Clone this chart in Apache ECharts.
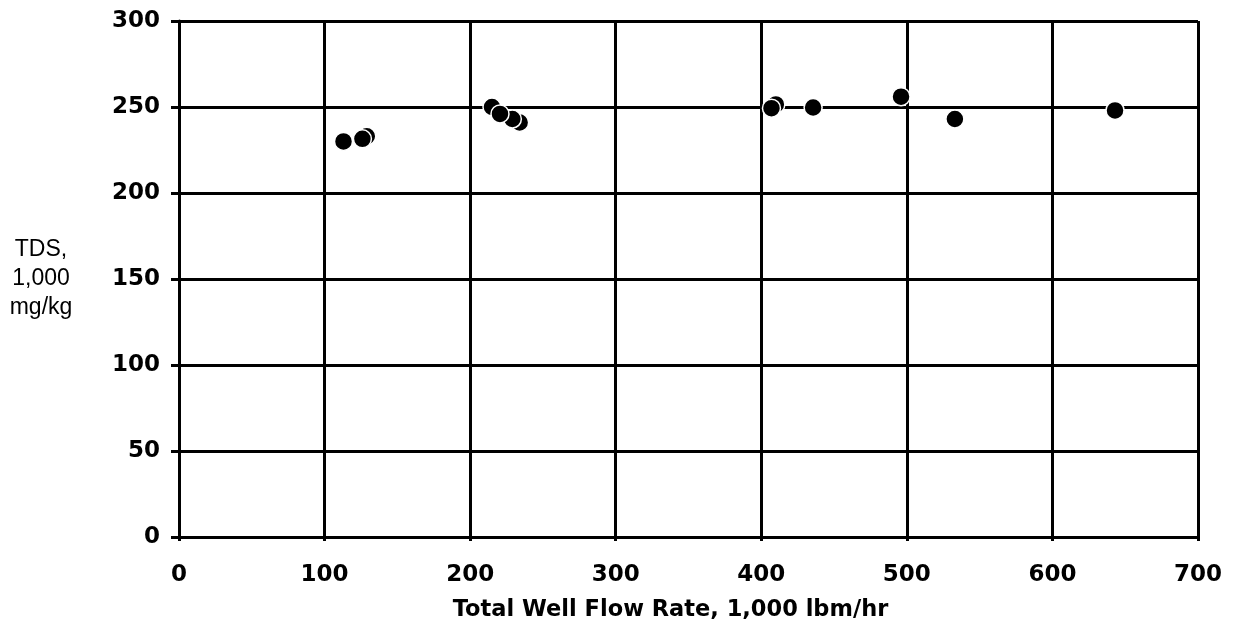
<!DOCTYPE html>
<html>
<head>
<meta charset="utf-8">
<script src="https://cdn.jsdelivr.net/npm/echarts@6/dist/echarts.min.js"></script>
<style>
html,body{margin:0;padding:0;background:#fff;}
#chart{width:1236px;height:632px;}
</style>
</head>
<body>
<div id="chart"></div>
<script>
// Data (back-most points first)
var flowRate = [129, 126, 113, 234, 229, 215, 220.5, 410, 407, 435.6, 496, 533, 643];
var tds      = [233, 231.5, 230, 241, 243, 250, 246, 251.5, 249.3, 249.7, 256, 243, 248];
var xTicks = [0, 100, 200, 300, 400, 500, 600, 700];
var yTicks = [0, 50, 100, 150, 200, 250, 300];

var points = flowRate.map(function (x, i) { return [x, tds[i]]; });

var chart = echarts.init(document.getElementById('chart'), null, {renderer: 'canvas'});
var lineStyle = {color: '#000', width: 3};
chart.setOption({
  backgroundColor: '#fff',
  animation: false,
  grid: {left: 179, right: 38, top: 21, bottom: 95, containLabel: false},
  xAxis: {
    type: 'value',
    min: xTicks[0], max: xTicks[xTicks.length - 1], interval: 100,
    name: 'Total Well Flow Rate, 1,000 lbm/hr',
    nameLocation: 'middle',
    nameGap: 62,
    nameTextStyle: {fontFamily: 'DejaVu Sans', fontWeight: 'bold', fontSize: 22.5, color: '#000', padding: [0, 36, 0, 0]},
    axisLine: {show: true, lineStyle: lineStyle},
    axisTick: {show: true, length: 4, lineStyle: lineStyle},
    axisLabel: {margin: 27, fontFamily: 'DejaVu Sans', fontWeight: 'bold', fontSize: 23, color: '#000'},
    splitLine: {show: true, lineStyle: lineStyle}
  },
  yAxis: {
    type: 'value',
    min: yTicks[0], max: yTicks[yTicks.length - 1], interval: 50,
    name: 'TDS,\n1,000\nmg/kg',
    nameLocation: 'middle',
    nameRotate: 0,
    nameGap: 138,
    nameTextStyle: {fontFamily: 'Liberation Sans', fontSize: 23, color: '#000', align: 'center', lineHeight: 29},
    axisLine: {show: true, lineStyle: lineStyle},
    axisTick: {show: true, length: 8, lineStyle: lineStyle},
    axisLabel: {margin: 19, fontFamily: 'DejaVu Sans', fontWeight: 'bold', fontSize: 23, color: '#000'},
    splitLine: {show: true, lineStyle: lineStyle}
  },
  series: [{
    type: 'scatter',
    data: points,
    symbol: 'circle',
    symbolSize: 18,
    itemStyle: {color: '#000', borderColor: '#fff', borderWidth: 1.5, opacity: 1}
  }]
});
</script>
</body>
</html>
